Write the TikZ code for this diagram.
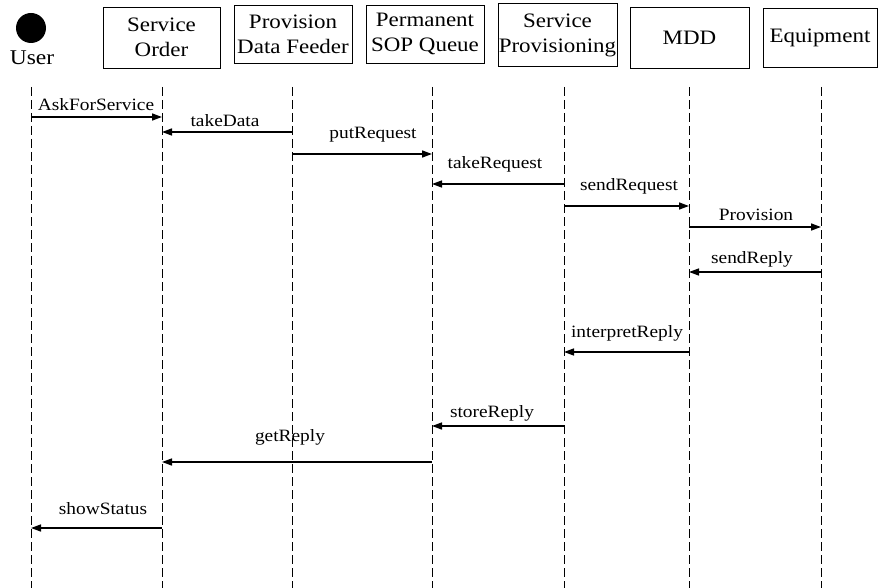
\documentclass[tikz,border=0pt]{standalone}
\usepackage{fontspec}
\setmainfont{Liberation Serif}[FakeStretch=1.12]
\usetikzlibrary{arrows.meta}
\tikzset{
  partbox/.style={draw, line width=0.9pt, inner sep=0pt, align=center,
    font=\fontsize{20.5}{25}\selectfont},
  lifeline/.style={line width=0.9pt, dash pattern=on 9pt off 4pt},
  msg/.style={line width=1.5pt, -{Triangle[length=10pt,width=7pt]}},
  msglabel/.style={inner sep=0pt, font=\fontsize{17.3}{19}\selectfont},
}
\begin{document}
\begin{tikzpicture}[x=1pt,y=-1pt]
\useasboundingbox (0,0) rectangle (880,588);
% participants
\fill (31,28) circle (15);
\node[inner sep=0pt, anchor=base, font=\fontsize{21}{23}\selectfont] (user) at (32,65) {User};
\node[partbox, minimum width=117pt, minimum height=61pt] (so) at (161.5,37.5) {Service\\Order};
\node[partbox, minimum width=118pt, minimum height=58pt] (pdf) at (293,34) {Provision\\Data Feeder};
\node[partbox, minimum width=118pt, minimum height=58pt] (sop) at (425,34) {Permanent\\SOP Queue};
\node[partbox, minimum width=119pt, minimum height=63pt] (sp) at (557.5,35) {Service\\Provisioning};
\node[partbox, minimum width=119pt, minimum height=61pt] (mdd) at (689.5,37.5) {MDD};
\node[partbox, minimum width=114pt, minimum height=59pt] (eq) at (820,37.5) {Equipment};
% lifelines
\foreach \n/\x in {U/31, SO/162, PDF/292, SOP/432, SP/564, MDD/689, EQ/821}{
  \coordinate (l\n) at (\x,87);
  \coordinate (l\n b) at (\x,588);
  \draw[lifeline] (l\n) -- (l\n b);
}
% message rows
\foreach \i/\y in {1/117, 2/132, 3/154, 4/184, 5/206, 6/227, 7/272, 8/352, 9/426, 10/462, 11/528}{
  \coordinate (y\i) at (0,\y);
}
\draw[msg] (lU |- y1) -- (lSO |- y1);
\node[msglabel] (t1) at (96,105) {AskForService};
\draw[msg] (lPDF |- y2) -- (lSO |- y2);
\node[msglabel] (t2) at (225,121) {takeData};
\draw[msg] (lPDF |- y3) -- (lSOP |- y3);
\node[msglabel] (t3) at (373,135) {putRequest};
\draw[msg] (lSP |- y4) -- (lSOP |- y4);
\node[msglabel] (t4) at (495,164) {takeRequest};
\draw[msg] (lSP |- y5) -- (lMDD |- y5);
\node[msglabel] (t5) at (629,186) {sendRequest};
\draw[msg] (lMDD |- y6) -- (lEQ |- y6);
\node[msglabel] (t6) at (756,215) {Provision};
\draw[msg] (lEQ |- y7) -- (lMDD |- y7);
\node[msglabel] (t7) at (752,259) {sendReply};
\draw[msg] (lMDD |- y8) -- (lSP |- y8);
\node[msglabel] (t8) at (627,333) {interpretReply};
\draw[msg] (lSP |- y9) -- (lSOP |- y9);
\node[msglabel] (t9) at (492,413) {storeReply};
\draw[msg] (lSOP |- y10) -- (lSO |- y10);
\node[msglabel] (t10) at (290,437) {getReply};
\draw[msg] (lSO |- y11) -- (lU |- y11);
\node[msglabel] (t11) at (103,509) {showStatus};
\end{tikzpicture}
\end{document}
